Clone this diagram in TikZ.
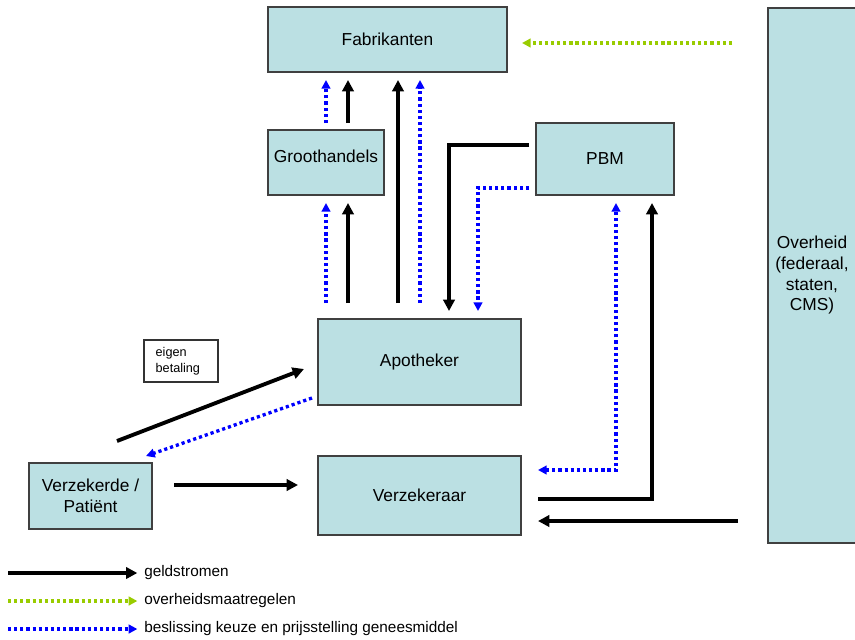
\documentclass[tikz,border=0pt]{standalone}
\usepackage{fontspec}
\setmainfont{Liberation Sans}
\usetikzlibrary{arrows.meta}
\definecolor{boxfill}{RGB}{187,224,227}
\definecolor{govgreen}{RGB}{153,204,0}
\definecolor{decblue}{RGB}{0,0,255}
\tikzset{
  box/.style={draw=black!75, line width=0.8pt, fill=boxfill, align=center, inner sep=1pt,
              font=\fontsize{13}{15.5}\selectfont},
  money/.style={draw=black, line width=2.9pt, -{Triangle[length=8.5pt,width=8.5pt]}},
  gov/.style={draw=govgreen, line width=2.5pt, dash pattern=on 2.4pt off 2.2pt,
              -{Triangle[length=6.5pt,width=6.5pt]}},
  dec/.style={draw=decblue, line width=2.5pt, dash pattern=on 2.4pt off 2.2pt,
              -{Triangle[length=6.5pt,width=6.5pt]}},
  decboth/.style={draw=decblue, line width=2.5pt, dash pattern=on 2.4pt off 2.2pt,
              {Triangle[length=6.5pt,width=6.5pt]}-{Triangle[length=6.5pt,width=6.5pt]}},
  legtext/.style={anchor=west, inner sep=0pt, font=\fontsize{11.5}{14}\selectfont},
}
\begin{document}
\begin{tikzpicture}[x=0.75pt,y=-0.75pt]
\useasboundingbox (0,0) rectangle (855,639);

% boxes
\node[box, minimum width=179.25pt, minimum height=48.75pt] (fab) at (387.5,39.5) {Fabrikanten};
\node[box, minimum width=87pt, minimum height=48.75pt] (groot) at (326,162.5) {\raisebox{9pt}{Groothandels}};
\node[box, minimum width=103.5pt, minimum height=54pt] (pbm) at (605,159) {PBM};
\node[box, minimum width=152.25pt, minimum height=64.5pt] (apo) at (419.5,362) {Apotheker};
\node[box, minimum width=152.25pt, minimum height=59.25pt] (vzk) at (419.5,495.5) {Verzekeraar};
\node[box, minimum width=92.25pt, minimum height=49.5pt] (pat) at (90.5,496) {Verzekerde /\\Patiënt};
\node[box, minimum width=66pt, minimum height=401.25pt] (gov) at (812,275.5) {Overheid\\(federaal,\\staten,\\CMS)};
\node[draw=black!80, line width=0.8pt, fill=white, minimum width=55.5pt, minimum height=31.5pt,
      align=left, font=\fontsize{9.5}{12}\selectfont, text width=42pt, inner xsep=0pt] (eb) at (181,361) {\hspace*{2pt}eigen\\\hspace*{2pt}betaling};

% endpoints
\coordinate (govA) at (732,43);   \coordinate (fabA) at (522,43);
\coordinate (gr1s) at (326,123);  \coordinate (fab1) at (326,80);
\coordinate (gr2s) at (348,123);  \coordinate (fab2) at (348,80);
\coordinate (ap3s) at (398,303);  \coordinate (fab3) at (398,80);
\coordinate (ap4s) at (420,303);  \coordinate (fab4) at (420,80);
\coordinate (ap1s) at (326,303);  \coordinate (gr1) at (326,203);
\coordinate (ap2s) at (348,303);  \coordinate (gr2) at (348,203);
\coordinate (pbA) at (529,145);   \coordinate (apA) at (449,311);
\coordinate (pbB) at (529,188);   \coordinate (apB) at (478,311);
\coordinate (vkA) at (538,470);   \coordinate (pbC) at (616,203);
\coordinate (vkB) at (538,499);   \coordinate (pbD) at (652,203);
\coordinate (govB) at (738,521);  \coordinate (vkC) at (538,521);
\coordinate (patA) at (117,441);  \coordinate (apC) at (304,369);
\coordinate (apD) at (312,398);   \coordinate (patB) at (146,456);
\coordinate (patC) at (174,485);  \coordinate (vkD) at (298,485);

% connectors
\draw[gov] (govA) -- (fabA);
\draw[dec] (gr1s) -- (fab1);
\draw[money] (gr2s) -- (fab2);
\draw[money] (ap3s) -- (fab3);
\draw[dec] (ap4s) -- (fab4);
\draw[dec] (ap1s) -- (gr1);
\draw[money] (ap2s) -- (gr2);
\draw[money] (pbA) -| (apA);
\draw[dec] (pbB) -| (apB);
\draw[decboth] (vkA) -| (pbC);
\draw[money] (vkB) -| (pbD);
\draw[money] (govB) -- (vkC);
\draw[money] (patA) -- (apC);
\draw[dec] (apD) -- (patB);
\draw[money] (patC) -- (vkD);

% legend
\node[legtext] (l1) at (144,573) {geldstromen};
\node[legtext] (l2) at (144,601) {overheidsmaatregelen};
\node[legtext] (l3) at (144,629) {beslissing keuze en prijsstelling geneesmiddel};
\coordinate (l1s) at (8,573);
\coordinate (l2s) at (8,601);
\coordinate (l3s) at (8,629);
\draw[money, shorten >=5pt] (l1s) -- (l1.west);
\draw[gov, shorten >=5pt] (l2s) -- (l2.west);
\draw[dec, shorten >=5pt] (l3s) -- (l3.west);
\end{tikzpicture}
\end{document}
